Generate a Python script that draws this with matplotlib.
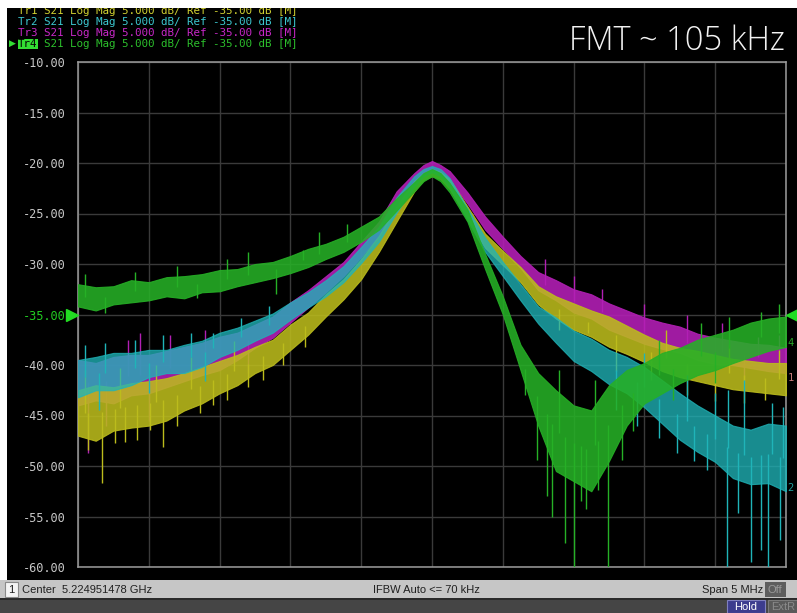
import numpy as np
import matplotlib.pyplot as plt
from matplotlib.patches import Rectangle

# =========================================
# Trace data (offset from center, MHz / dB)
# =========================================
freq_mhz = [-2.5, -2.375, -2.25, -2.125, -2.0, -1.875, -1.75, -1.625, -1.5, -1.375,
            -1.25, -1.125, -1.0, -0.875, -0.75, -0.625, -0.5, -0.375, -0.25, -0.125,
            -0.06, 0.0, 0.06, 0.125, 0.25, 0.375, 0.5, 0.625, 0.75, 0.875,
            1.0, 1.125, 1.25, 1.375, 1.5, 1.625, 1.75, 1.875, 2.0, 2.125,
            2.25, 2.375, 2.5]

# lower / upper edge of the noise band of each trace
tr1_lo = [-47.0, -47.5, -46.5, -46.2, -46.0, -45.5, -44.5, -43.8, -42.8, -42.0,
          -40.8, -40.0, -38.5, -37.0, -35.2, -33.5, -31.5, -28.8, -25.8, -22.8,
          -21.7, -21.3, -21.6, -22.6, -25.5, -28.4, -30.1, -31.8, -34.0, -35.4,
          -36.5, -37.2, -38.2, -38.9, -39.7, -40.6, -41.2, -41.6, -42.0, -42.4,
          -42.6, -42.8, -43.0]
tr1_hi = [-42.5, -42.0, -42.2, -41.8, -41.6, -41.3, -40.8, -40.2, -39.6, -39.0,
          -38.2, -37.5, -36.0, -34.8, -33.0, -31.5, -29.5, -27.2, -24.3, -21.8,
          -21.0, -20.6, -20.9, -21.6, -24.3, -27.0, -28.7, -30.3, -32.2, -33.2,
          -33.9, -34.6, -35.2, -36.1, -37.0, -37.8, -38.3, -38.6, -39.0, -39.4,
          -39.6, -39.8, -39.8]

tr2_lo = [-43.2, -42.5, -42.5, -42.0, -41.2, -40.8, -40.8, -40.2, -39.2, -38.5,
          -37.6, -36.8, -35.5, -34.3, -33.2, -31.8, -29.9, -27.8, -24.9, -22.3,
          -21.3, -20.9, -21.3, -22.4, -25.7, -28.8, -31.2, -33.6, -35.9, -37.8,
          -39.6, -40.6, -41.9, -42.8, -44.2, -45.8, -47.4, -48.6, -49.6, -51.2,
          -51.8, -51.7, -52.5]
tr2_hi = [-39.5, -39.2, -38.8, -38.8, -38.5, -38.5, -38.0, -37.6, -36.8, -36.3,
          -35.6, -34.9, -33.8, -32.8, -31.6, -30.2, -28.3, -26.3, -23.4, -21.3,
          -20.6, -20.3, -20.6, -21.5, -24.5, -27.4, -29.8, -32.0, -34.2, -35.3,
          -36.6, -37.4, -38.5, -39.2, -40.2, -41.5, -42.8, -44.0, -45.0, -46.0,
          -46.4, -45.8, -46.0]

tr3_lo = [-44.0, -43.5, -43.8, -43.0, -42.8, -42.2, -41.6, -41.0, -40.5, -39.5,
          -38.3, -37.3, -35.8, -34.3, -32.8, -31.2, -29.3, -27.2, -24.2, -21.9,
          -20.9, -20.5, -20.9, -21.7, -24.0, -26.6, -28.5, -30.4, -32.6, -33.6,
          -34.8, -35.4, -36.5, -37.2, -37.9, -38.4, -38.8, -39.5, -39.9, -40.0,
          -40.3, -40.6, -40.8]
tr3_hi = [-39.5, -39.8, -39.2, -39.0, -39.0, -38.6, -38.2, -37.8, -37.2, -36.8,
          -36.0, -35.2, -33.8, -32.6, -31.2, -29.8, -27.8, -25.8, -22.8, -21.0,
          -20.2, -19.8, -20.2, -20.8, -22.9, -25.3, -27.3, -29.2, -30.8, -31.6,
          -32.5, -33.0, -33.9, -34.6, -35.3, -35.8, -36.2, -36.9, -37.3, -37.6,
          -37.9, -38.0, -38.3]

tr4_lo = [-34.2, -34.6, -34.0, -33.8, -33.6, -33.2, -33.4, -32.8, -32.7, -32.2,
          -31.8, -31.4, -30.9, -30.3, -29.5, -28.8, -27.8, -26.6, -24.7, -22.8,
          -21.8, -21.3, -21.8, -22.9, -25.8, -30.5, -35.0, -40.5, -46.0, -50.5,
          -51.5, -52.5, -49.5, -46.0, -43.8, -42.8, -41.8, -41.0, -40.5, -39.8,
          -39.2, -38.6, -38.2]
tr4_hi = [-32.0, -32.3, -32.2, -31.6, -31.8, -31.3, -31.2, -31.0, -30.6, -30.5,
          -30.0, -29.8, -29.2, -28.5, -28.0, -27.3, -26.3, -25.3, -23.5, -21.9,
          -21.0, -20.6, -21.0, -22.0, -24.6, -29.0, -33.2, -38.0, -40.8, -42.5,
          -44.0, -44.5, -42.0, -40.5, -39.8, -38.8, -38.3, -37.5, -37.0, -36.5,
          -35.8, -35.4, -35.2]

# isolated noise spikes (position, tip level)
tr1_spike_f = [-2.43, -2.33, -2.24, -2.17, -2.08, -1.99, -1.90, -1.80, -1.64, -1.55,
               -1.45, -1.30, -1.19, -1.05, -0.90, -2.45, -2.20, -1.95, -1.70, -1.40,
               0.90, 1.10, 1.30, 1.55, 1.80, 2.00, 2.20, 2.35, 1.65, 2.10, 2.45]
tr1_spike_db = [-48.4, -51.7, -47.7, -47.6, -47.4, -46.4, -48.1, -46.0, -44.8, -44.0,
                -43.5, -42.2, -41.5, -40.0, -38.2, -40.5, -40.3, -40.0, -39.2, -37.6,
                -36.5, -36.8, -40.6, -41.5, -43.0, -43.6, -43.8, -43.5, -36.5, -38.0, -38.5]

tr2_spike_f = [-2.45, -2.31, -2.10, -1.90, -1.70, -1.55, -1.35, -1.15, -2.35, -2.00,
               -1.60, 1.30, 1.45, 1.60, 1.73, 1.85, 1.94, 2.08, 2.16, 2.25,
               2.32, 2.37, 2.46, 2.09, 2.48, 2.20, 1.50, 1.80, 2.00, 2.40]
tr2_spike_db = [-38.0, -37.8, -37.5, -37.0, -36.8, -36.8, -35.3, -34.2, -44.5, -42.8,
                -41.6, -44.5, -46.0, -47.2, -48.7, -49.5, -50.4, -60.0, -54.7, -59.5,
                -58.3, -60.0, -57.3, -42.5, -44.2, -41.5, -38.8, -41.0, -42.8, -43.8]

tr3_spike_f = [-2.43, -2.06, -2.15, -1.85, -1.60, -2.30, -2.00, -1.30, 1.20, 1.50,
               1.80, 2.05, 2.30, 2.45, 2.20, 1.00, 0.80]
tr3_spike_db = [-48.7, -36.8, -37.5, -37.0, -36.5, -46.0, -45.5, -40.8, -32.5, -34.0,
                -35.0, -35.8, -37.2, -37.0, -41.8, -31.2, -29.5]

tr4_spike_f = [-2.31, -1.66, -0.91, -2.45, -2.10, -1.80, -1.45, -1.10, -0.80, -1.30,
               -0.60, 0.66, 0.74, 0.81, 0.85, 0.94, 1.00, 1.05, 1.09, 1.17,
               1.24, 1.34, 1.42, 0.90, 1.15, 1.60, 1.90, 2.10, 2.32, 2.45, 1.70, 2.00]
tr4_spike_db = [-34.9, -33.4, -28.6, -31.0, -30.8, -30.2, -29.5, -33.0, -26.8, -28.8,
                -26.0, -43.0, -49.4, -53.0, -55.0, -57.6, -60.0, -53.5, -54.3, -52.4,
                -60.0, -49.4, -46.5, -40.5, -41.5, -37.5, -35.8, -35.2, -34.8, -34.0, -43.5, -41.8]

trace_names = ["Tr1", "Tr2", "Tr3", "Tr4"]
trace_colors = ["#bcbc1c", "#1fb4b8", "#b21fb4", "#26b026"]
trace_alpha = [0.88, 0.78, 0.9, 0.88]
text_colors = ["#d2d232", "#3cc8d0", "#c828c8", "#2cc02c"]

ref_level = -35.0
y_ticks = [-10, -15, -20, -25, -30, -35, -40, -45, -50, -55, -60]

W, H = 797, 613

# =========================================
# Figure / axes
# =========================================
fig = plt.figure(figsize=(W / 100, H / 100), dpi=100, facecolor="black")


def px_box(x0, y0, x1, y1):
    # pixel box (from top-left) -> figure fraction rect
    return [x0 / W, 1 - y1 / H, (x1 - x0) / W, (y1 - y0) / H]


def fig_rect(x0, y0, x1, y1, **kw):
    l, b, w, h = px_box(x0, y0, x1, y1)
    fig.patches.append(Rectangle((l, b), w, h, transform=fig.transFigure, **kw))


ax = fig.add_axes(px_box(78, 62, 786, 567))
ax.set_facecolor("black")
ax.set_xlim(-2.5, 2.5)
ax.set_ylim(-60, -10)
ax.set_xticks(np.linspace(-2.5, 2.5, 11))
ax.set_yticks(y_ticks)
ax.set_xticklabels([])
ax.set_yticklabels([f"{v:.2f}" for v in y_ticks], family="DejaVu Sans Mono",
                   fontsize=8.6, color="#c8c8c8")
for lab, v in zip(ax.get_yticklabels(), y_ticks):
    if v == ref_level:
        lab.set_color("#22cc22")
ax.tick_params(length=0, pad=9.0)
ax.grid(True, color="#3a3a3a", linewidth=1)
ax.set_axisbelow(True)
for sp in ax.spines.values():
    sp.set_color("#9c9c9c")
    sp.set_linewidth(1.1)

# =========================================
# Traces (Tr3 at the back, Tr4 on top)
# =========================================
bands = [(tr3_lo, tr3_hi, tr3_spike_f, tr3_spike_db, 2),
         (tr1_lo, tr1_hi, tr1_spike_f, tr1_spike_db, 0),
         (tr2_lo, tr2_hi, tr2_spike_f, tr2_spike_db, 1),
         (tr4_lo, tr4_hi, tr4_spike_f, tr4_spike_db, 3)]

for k, (lo, hi, sf, sdb, i) in enumerate(bands):
    c = trace_colors[i]
    z = 3 + k * 0.1
    ax.fill_between(freq_mhz, lo, hi, color=c, alpha=trace_alpha[i], linewidth=0.8,
                    edgecolor=c, zorder=z)
    mid = (np.array(lo) + np.array(hi)) / 2
    base = np.interp(sf, freq_mhz, mid)
    ax.vlines(sf, base, sdb, color=c, linewidth=1.0, zorder=z)

# reference level markers
ax.plot([-0.008], [ref_level], marker=">", ms=9, color="#22dd22",
        transform=ax.get_yaxis_transform(), clip_on=False, zorder=6)
ax.plot([1.009], [ref_level], marker="<", ms=9, color="#22dd22",
        transform=ax.get_yaxis_transform(), clip_on=False, zorder=6)

# trace numbers at the right edge
for num, yv, col in [("4", -37.8, "#2aa82a"), ("1", -41.3, "#c47a7a"), ("2", -52.2, "#22a0a0")]:
    ax.text(1.002, yv, num, transform=ax.get_yaxis_transform(), color=col,
            fontsize=7.5, family="DejaVu Sans Mono", va="center", ha="left")

# =========================================
# Channel header lines
# =========================================
header_y = [11.2, 22.0, 32.8, 43.6]
hdr_size = 7.8
char_w = hdr_size * 100 / 72 * 0.602
for name, col, yy in zip(trace_names, text_colors, header_y):
    rest = "S21 Log Mag 5.000 dB/ Ref -35.00 dB [M]"
    if name == "Tr4":
        fig.text(18 / W, 1 - yy / H, name, color="black", family="DejaVu Sans Mono",
                 fontsize=hdr_size, va="center", ha="left",
                 bbox=dict(facecolor="#33dd33", edgecolor="none", pad=0))
        fig.text((18 + 4 * char_w) / W, 1 - yy / H, rest, color=col,
                 family="DejaVu Sans Mono", fontsize=hdr_size, va="center", ha="left")
        fig.text(9 / W, 1 - yy / H, "\u25b6", color="#33dd33", fontsize=6.5,
                 va="center", ha="left")
    else:
        fig.text(18 / W, 1 - yy / H, name + " " + rest, color=col,
                 family="DejaVu Sans Mono", fontsize=hdr_size, va="center", ha="left")

fig.text(785 / W, 1 - 41 / H, "FMT ~ 105 kHz", color="#f2f2f2", family="Open Sans",
         fontsize=23.5, fontweight="light", va="center", ha="right")

# =========================================
# Window frame and status bar
# =========================================
fig_rect(0, 0, 797, 8, facecolor="white", edgecolor="none", zorder=10)
fig_rect(0, 0, 7, 613, facecolor="white", edgecolor="none", zorder=10)
fig_rect(0, 580, 797, 598, facecolor="#c6c6c6", edgecolor="none", zorder=10)
fig_rect(0, 598, 797, 613, facecolor="#454545", edgecolor="none", zorder=10)
fig_rect(0, 598, 797, 600, facecolor="#2a2a2a", edgecolor="none", zorder=10)

status_y = 1 - 590 / H
fig_rect(5, 582, 18, 597, facecolor="#f4f4f4", edgecolor="#8a8a8a", linewidth=0.8, zorder=11)
fig.text(8 / W, status_y, "1", color="#202020", fontsize=8, family="Liberation Sans",
         va="center", ha="left", zorder=12)
fig.text(22 / W, status_y, "Center  5.224951478 GHz", color="#202020", fontsize=8.0,
         family="Liberation Sans", va="center", ha="left", zorder=12)
fig.text(373 / W, status_y, "IFBW Auto <= 70 kHz", color="#202020", fontsize=8.0,
         family="Liberation Sans", va="center", ha="left", zorder=12)
fig.text(702 / W, status_y, "Span 5 MHz", color="#202020", fontsize=8.0,
         family="Liberation Sans", va="center", ha="left", zorder=12)
fig_rect(765, 582, 786, 597, facecolor="#5e5e5e", edgecolor="none", zorder=11)
fig.text(775 / W, status_y, "Off", color="#9a9a9a", fontsize=8, family="Liberation Sans",
         va="center", ha="center", zorder=12)

fig_rect(727, 600, 765, 613, facecolor="#3c3c8e", edgecolor="#8080c0", linewidth=0.8, zorder=11)
fig.text(746 / W, 6 / H, "Hold", color="white", fontsize=8, family="Liberation Sans",
         va="center", ha="center", zorder=12)
fig_rect(768, 600, 798, 613, facecolor="#5a5a5a", edgecolor="#7a7a7a", linewidth=0.8, zorder=11)
fig.text(771 / W, 6 / H, "ExtR", color="#8a8a8a", fontsize=8, family="Liberation Sans",
         va="center", ha="left", zorder=12)

fig.savefig("out.png", dpi=100, facecolor="black")
plt.close(fig)
